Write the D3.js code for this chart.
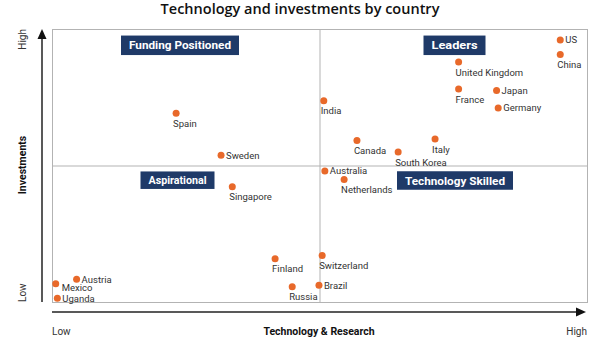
<!DOCTYPE html>
<html><head><meta charset="utf-8">
<script src="https://cdn.jsdelivr.net/npm/d3@7"></script>
<style>body{margin:0;background:#fff}svg{display:block}</style>
</head><body><svg id="c" width="600" height="338"></svg>
<script>
const title = "Technology and investments by country";
const countries = ["US","China","United Kingdom","France","Japan","Germany","India","Canada","Italy","South Korea","Spain","Sweden","Singapore","Finland","Austria","Mexico","Uganda","Russia","Australia","Netherlands","Switzerland","Brazil"];
const technology = [95.0,95.0,76.0,76.0,83.1,83.4,50.8,57.0,71.6,64.7,23.2,31.6,33.7,41.7,4.6,0.7,1.0,44.9,51.0,54.6,50.5,49.9];
const investments = [96.0,90.7,87.9,78.0,77.5,71.1,73.7,59.2,59.7,54.9,69.1,53.8,42.2,15.8,8.3,6.7,1.4,5.6,48.0,44.9,17.0,6.1];
const quadrants = ["Funding Positioned","Leaders","Aspirational","Technology Skilled"];
const xAxisTitle = "Technology & Research";
const yAxisTitle = "Investments";
const lowLabel = "Low", highLabel = "High";

// label placement (style)
const placement = {"US":"r","China":"b","United Kingdom":"b","France":"b","Japan":"r","Germany":"r","India":"b","Canada":"b","Italy":"b","South Korea":"b","Spain":"b","Sweden":"r","Singapore":"b","Finland":"b","Austria":"r","Mexico":"br","Uganda":"r","Russia":"b","Australia":"r","Netherlands":"b","Switzerland":"b","Brazil":"r"};

const svg = d3.select("#c");
const L=52,R=587,T=29,B=302;
const x = d3.scaleLinear().domain([0,100]).range([L,R]);
const y = d3.scaleLinear().domain([0,100]).range([B,T]);

svg.append("text").attr("x",300).attr("y",14).attr("text-anchor","middle")
  .attr("font-family","Open Sans").attr("font-weight",600).attr("font-size",14.5).attr("fill","#111").text(title);

// frame
svg.append("rect").attr("x",L+0.5).attr("y",T+0.5).attr("width",R-L).attr("height",B-T)
  .attr("fill","none").attr("stroke","#b3b3b3").attr("stroke-width",1);
svg.append("line").attr("x1",x(50)+0.5).attr("x2",x(50)+0.5).attr("y1",T).attr("y2",B).attr("stroke","#b3b3b3");
svg.append("line").attr("x1",L).attr("x2",R).attr("y1",y(50)+0.5).attr("y2",y(50)+0.5).attr("stroke","#b3b3b3");

// axes arrows
svg.append("line").attr("x1",42).attr("x2",42).attr("y1",36).attr("y2",302).attr("stroke","#222").attr("stroke-width",1.5);
svg.append("path").attr("d","M42,29 L37.5,39 L46.5,39 Z").attr("fill","#111");
svg.append("line").attr("x1",52).attr("x2",578).attr("y1",312).attr("y2",312).attr("stroke","#222").attr("stroke-width",1.5);
svg.append("path").attr("d","M586,312 L576,307.5 L576,316.5 Z").attr("fill","#111");

const f = "Roboto";
svg.append("text").attr("x",52).attr("y",335).attr("font-family",f).attr("font-size",10).attr("fill","#333").text(lowLabel);
svg.append("text").attr("x",587).attr("y",335).attr("text-anchor","end").attr("font-family",f).attr("font-size",10).attr("fill","#333").text(highLabel);
svg.append("text").attr("x",319).attr("y",335).attr("text-anchor","middle").attr("font-family",f).attr("font-weight",700).attr("font-size",10.5).attr("fill","#111").text(xAxisTitle);
svg.append("text").attr("transform","translate(25.5,165) rotate(-90)").attr("text-anchor","middle").attr("font-family",f).attr("font-weight",700).attr("font-size",10.5).attr("fill","#111").text(yAxisTitle);
svg.append("text").attr("transform","translate(25.5,29) rotate(-90)").attr("text-anchor","end").attr("font-family",f).attr("font-size",10).attr("fill","#333").text(highLabel);
svg.append("text").attr("transform","translate(25.5,302) rotate(-90)").attr("text-anchor","start").attr("font-family",f).attr("font-size",10).attr("fill","#333").text(lowLabel);

// quadrant labels (centre x, centre y, width, height)
const qbox = [[180,45.3,118,19.5],[454.5,45.3,62,19.5],[177.5,180.2,74,17.5],[455,180.5,116,18.5]];
quadrants.forEach((q,i)=>{
  const [cx,cy,w,h] = qbox[i];
  const g = svg.append("g");
  g.append("rect").attr("x",cx-w/2).attr("y",cy-h/2).attr("width",w).attr("height",h).attr("fill","#1f3a68");
  g.append("text").attr("x",cx).attr("y",cy+4.1).attr("text-anchor","middle")
    .attr("font-family",f).attr("font-weight",700).attr("font-size",11.5).attr("fill","#fff")
    .attr("textLength",w-16).attr("lengthAdjust","spacingAndGlyphs").text(q);
});

// points
const data = countries.map((c,i)=>({c,tx:technology[i],inv:investments[i]}));
svg.selectAll("circle.p").data(data).join("circle").attr("class","p")
  .attr("cx",d=>x(d.tx)).attr("cy",d=>y(d.inv)).attr("r",3.5).attr("fill","#e8692a");
svg.selectAll("text.l").data(data).join("text").attr("class","l")
  .attr("font-family",f).attr("font-size",9.5).attr("fill","#333")
  .attr("x",d=>{const p=placement[d.c];return x(d.tx)+(p==="r"?5:p==="br"?6:-3);})
  .attr("y",d=>{const p=placement[d.c];return y(d.inv)+(p==="r"?3.5:p==="br"?7.5:13.5);})
  .text(d=>d.c);
</script></body></html>
